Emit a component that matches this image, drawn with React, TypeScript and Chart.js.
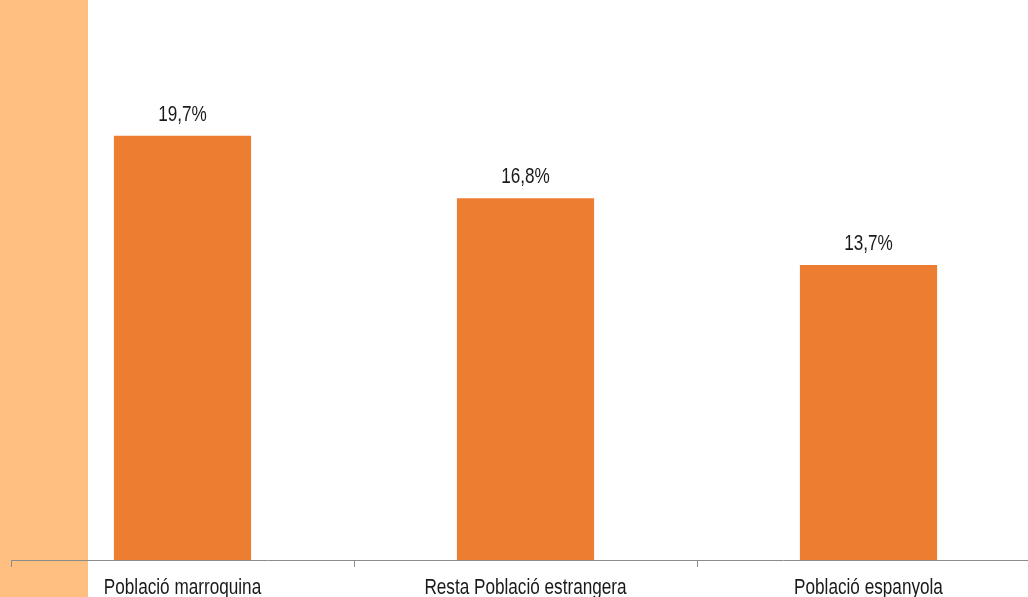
import React, { useEffect, useRef } from "react";
import { Chart, registerables } from "chart.js";

Chart.register(...registerables);

const categories = ["Població marroquina", "Resta Població estrangera", "Població espanyola"];
const values = [19.7, 16.8, 13.7];
const valueLabels = ["19,7%", "16,8%", "13,7%"];

const FONT = "'Liberation Sans', Arial, sans-serif";
const NARROW = 0.78;

function drawNarrow(ctx: CanvasRenderingContext2D, text: string, x: number, y: number) {
  ctx.save();
  ctx.translate(x, y);
  ctx.scale(NARROW, 1);
  ctx.fillText(text, 0, 0);
  ctx.restore();
}

export default function App() {
  const ref = useRef<HTMLCanvasElement>(null);
  useEffect(() => {
    if (!ref.current) return;
    const bandPlugin = {
      id: "band",
      beforeDraw(chart: any) {
        const ctx = chart.ctx;
        ctx.save();
        ctx.fillStyle = "#FFBF80";
        ctx.fillRect(0, 0, 88, chart.height);
        ctx.restore();
      },
    };
    const labelPlugin = {
      id: "vlabels",
      afterDraw(chart: any) {
        const ctx = chart.ctx;
        const meta = chart.getDatasetMeta(0);
        const xs = chart.scales.x;
        ctx.save();
        ctx.fillStyle = "#1a1a1a";
        ctx.font = "22px " + FONT;
        ctx.textAlign = "center";
        ctx.textBaseline = "alphabetic";
        meta.data.forEach((bar: any, i: number) => {
          drawNarrow(ctx, valueLabels[i], bar.x, bar.y - 15);
        });
        categories.forEach((c, i) => {
          drawNarrow(ctx, c, xs.getPixelForTick(i), chart.chartArea.bottom + 34);
        });
        ctx.restore();
      },
    };
    const chart = new Chart(ref.current, {
      type: "bar",
      data: {
        labels: categories,
        datasets: [
          {
            data: values,
            backgroundColor: "#ED7D31",
            borderWidth: 0,
            barPercentage: 0.4,
            categoryPercentage: 1,
          },
        ],
      },
      options: {
        animation: false,
        responsive: true,
        maintainAspectRatio: false,
        layout: { padding: { left: 11, right: 5, top: 0, bottom: 0 } },
        plugins: { legend: { display: false }, tooltip: { enabled: false } },
        scales: {
          x: {
            offset: true,
            afterFit(scale: any) {
              scale.height = 37;
            },
            grid: {
              offset: true,
              drawOnChartArea: false,
              drawTicks: true,
              tickLength: 7,
              color: "#8c8c8c",
            },
            border: { display: true, color: "#8c8c8c", width: 1 },
            ticks: {
              display: false,
              maxRotation: 0,
              autoSkip: false,
            },
          },
          y: { display: false, min: 0, max: 26 },
        },
      },
      plugins: [bandPlugin, labelPlugin],
    });
    return () => chart.destroy();
  }, []);
  return (
    <div style={{ position: "fixed", left: 0, top: 0, width: 1028, height: 597, overflow: "hidden", background: "#fff" }}>
      <div style={{ position: "relative", width: 1045, height: 597 }}>
        <canvas ref={ref} />
      </div>
    </div>
  );
}
